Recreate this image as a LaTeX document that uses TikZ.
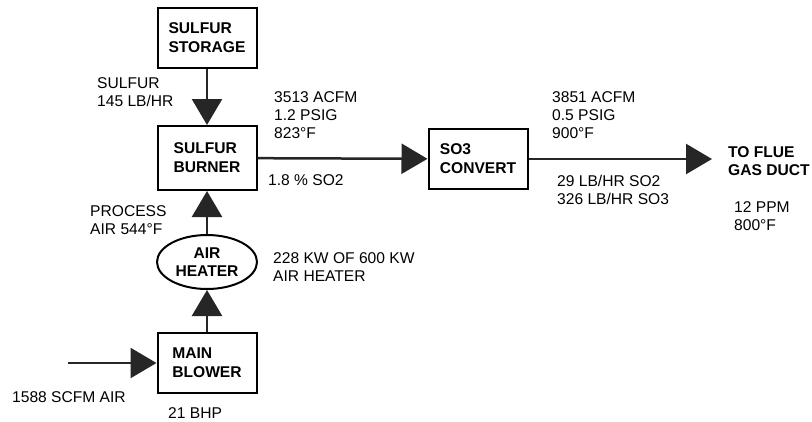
\documentclass[tikz,border=0pt]{standalone}
\usepackage{fontspec}
\setmainfont{Liberation Sans}
\usetikzlibrary{arrows.meta, positioning, shapes.geometric}

\begin{document}
\begin{tikzpicture}[
  x=1pt, y=-1pt,
  every node/.style={font=\fontsize{15.6}{18}\selectfont},
  box/.style={rectangle, draw, line width=2pt, align=left, minimum width=99pt, minimum height=60pt, font=\fontsize{15.6}{19}\selectfont\bfseries},
  heat/.style={ellipse, draw, line width=2pt, align=center, minimum width=100pt, minimum height=54pt, inner sep=1pt, font=\fontsize{15.6}{18}\selectfont\bfseries},
  lbl/.style={anchor=west, align=left, inner sep=0pt},
  arr/.style={-{Triangle[length=26pt, width=30pt]}, line width=2.5pt, draw=black!85, fill=black!85}
]
\useasboundingbox (0,0) rectangle (812,421);

% process units
\node[box] (storage) at (207,38) {SULFUR\\STORAGE};
\node[box, minimum height=64pt] (burner) at (207,158) {SULFUR\\BURNER};
\node[box] (convert) at (478,159) {SO3\\CONVERT};
\node[heat] (heater) at (207,262) {AIR\\HEATER};
\node[box] (blower) at (207,363) {MAIN\\BLOWER};
\coordinate (airin) at (68,363);
\coordinate (flue) at (712,159);

% flows
\draw[arr] (storage) -- (burner);
\draw[arr] (heater) -- (burner);
\draw[arr] (blower) -- (heater);
\draw[arr] (airin) -- (blower);
\draw[arr] (burner) -- (convert);
\draw[arr] (convert.east) -- (flue);

% stream data
\node[lbl] (sulfurfeed) at (97,92) {SULFUR\\145 LB/HR};
\node[lbl] (gasout) at (274,115) {3513 ACFM\\1.2 PSIG\\823°F};
\node[lbl] (so2pct) at (268,180) {1.8 \% SO2};
\node[lbl] (convout) at (552,115) {3851 ACFM\\0.5 PSIG\\900°F};
\node[lbl] (convload) at (557,190) {29 LB/HR SO2\\326 LB/HR SO3};
\node[lbl, font=\fontsize{15.6}{18}\selectfont\bfseries] (toflue) at (728,161) {TO FLUE\\GAS DUCT};
\node[lbl] (fluedata) at (734,216) {12 PPM\\800°F};
\node[lbl] (procair) at (90,220) {PROCESS\\AIR 544°F};
\node[lbl] (heatduty) at (273,267) {228 KW OF 600 KW\\AIR HEATER};
\node[lbl] (airflow) at (12,397) {1588 SCFM AIR};
\node[lbl] (bhp) at (168,413) {21 BHP};
\end{tikzpicture}
\end{document}
